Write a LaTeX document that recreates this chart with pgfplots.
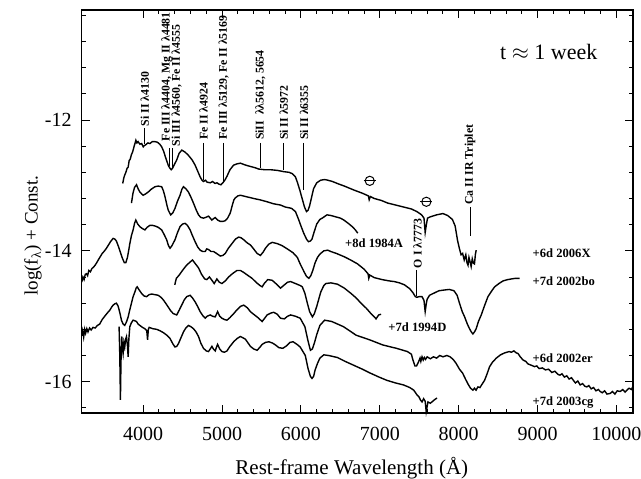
\documentclass[border=0pt]{standalone}
\usepackage{fontspec}
\setmainfont{Liberation Serif}
\usepackage{pgfplots}
\pgfplotsset{compat=1.18}
\begin{document}
\begin{tikzpicture}
\begin{axis}[
  scale only axis, width=275.65pt, height=201.5pt,
  xmin=3220, xmax=10210, ymin=-16.479, ymax=-10.318,
  xtick={4000,5000,6000,7000,8000,9000,10000}, minor x tick num=4,
  scaled x ticks=false, scaled y ticks=false,
  ytick={-16,-14,-12},
  minor ytick={-16.4,-15.6,-15.2,-14.8,-14.4,-13.6,-13.2,-12.8,-12.4,-11.6,-11.2,-10.8,-10.4},
  tick align=inside, major tick length=4pt, minor tick length=2pt,
  xtick pos=both, ytick pos=both,
  /pgf/number format/assume math mode=true,
  /pgf/number format/set thousands separator={},
  tick label style={font=\fontsize{10}{12}\selectfont},
  xticklabel style={yshift=-3.4pt},
  yticklabel style={xshift=-1.5pt},
  axis line style={line width=0.6pt},
  every tick/.style={line width=0.5pt},
  xlabel={Rest-frame Wavelength (Å)},
  ylabel={log(f\textsubscript{λ}) + Const.},
  xlabel style={at={(axis description cs:0.49,-0.1365)}, anchor=center, font=\fontsize{10.5}{12}\selectfont},
  ylabel style={at={(axis description cs:-0.0882,0.44)}, anchor=center, font=\fontsize{9.5}{11}\selectfont},
  clip=false,
]
% 2006X
\addplot[black, line width=0.7pt] coordinates {
(3740,-12.97)(3755,-12.88)(3766,-12.84)(3780,-12.80)(3795,-12.74)(3809,-12.72)(3822,-12.62)(3835,-12.60)
(3850,-12.53)(3862,-12.50)(3872,-12.46)(3885,-12.40)(3895,-12.36)(3907,-12.31)(3920,-12.35)(3935,-12.33)
(3958,-12.37)(3980,-12.36)(4000,-12.41)(4015,-12.39)(4030,-12.38)(4060,-12.35)(4085,-12.36)(4115,-12.33)
(4149,-12.33)(4180,-12.34)(4210,-12.37)(4234,-12.41)(4260,-12.48)(4280,-12.56)(4300,-12.63)(4320,-12.70)
(4340,-12.74)(4355,-12.76)(4370,-12.74)(4395,-12.68)(4425,-12.61)(4455,-12.51)(4489,-12.46)(4530,-12.49)
(4573,-12.54)(4620,-12.61)(4658,-12.69)(4690,-12.78)(4722,-12.87)(4745,-12.92)(4764,-12.94)(4790,-12.92)
(4810,-12.95)(4850,-12.96)(4880,-12.94)(4910,-12.97)(4935,-12.96)(4960,-12.98)(4986,-12.99)(5010,-12.96)
(5035,-12.92)(5062,-12.86)(5100,-12.76)(5146,-12.69)(5190,-12.67)(5232,-12.66)(5300,-12.69)(5359,-12.71)
(5420,-12.73)(5465,-12.75)(5540,-12.76)(5614,-12.76)(5700,-12.77)(5784,-12.79)(5850,-12.80)(5890,-12.82)
(5930,-12.87)(5954,-12.95)(5985,-13.07)(6017,-13.21)(6045,-13.33)(6070,-13.40)(6090,-13.38)(6110,-13.31)
(6135,-13.18)(6160,-13.05)(6200,-12.96)(6250,-12.92)(6300,-12.91)(6340,-12.92)(6400,-12.94)(6460,-12.97)
(6550,-13.01)(6670,-13.07)(6780,-13.12)(6855,-13.16)(6865,-13.22)(6880,-13.17)(6930,-13.20)(7020,-13.23)
(7100,-13.27)(7200,-13.30)(7300,-13.33)(7400,-13.36)(7470,-13.40)(7530,-13.45)(7560,-13.50)(7575,-13.72)
(7590,-13.60)(7605,-13.50)(7640,-13.48)(7720,-13.45)(7800,-13.43)(7860,-13.46)(7920,-13.52)(7955,-13.62)
(7985,-13.84)(8010,-13.97)(8030,-14.06)(8050,-14.04)(8070,-14.14)(8090,-14.06)(8105,-14.18)(8118,-14.22)
(8130,-14.10)(8145,-14.17)(8158,-14.24)(8172,-14.12)(8188,-14.19)(8200,-14.20)(8212,-14.05)(8222,-13.99)
};
% 1984A
\addplot[black, line width=0.7pt] coordinates {
(3851,-13.27)(3870,-13.12)(3890,-13.03)(3915,-12.99)(3935,-13.05)(3957,-13.10)(3980,-13.13)(4000,-13.15)
(4030,-13.13)(4064,-13.10)(4100,-13.06)(4149,-13.02)(4190,-13.01)(4234,-13.02)(4255,-13.08)(4276,-13.17)
(4300,-13.30)(4318,-13.38)(4348,-13.45)(4375,-13.42)(4403,-13.35)(4435,-13.24)(4467,-13.15)(4490,-13.06)
(4510,-13.02)(4540,-13.05)(4573,-13.10)(4605,-13.18)(4637,-13.27)(4670,-13.37)(4701,-13.45)(4730,-13.49)
(4764,-13.50)(4790,-13.49)(4828,-13.47)(4850,-13.50)(4870,-13.53)(4890,-13.51)(4913,-13.49)(4945,-13.53)
(4977,-13.55)(5010,-13.55)(5040,-13.54)(5070,-13.50)(5104,-13.42)(5130,-13.30)(5150,-13.22)(5168,-13.19)
(5200,-13.16)(5232,-13.15)(5300,-13.17)(5401,-13.20)(5480,-13.22)(5571,-13.25)(5650,-13.28)(5741,-13.30)
(5800,-13.33)(5880,-13.35)(5930,-13.40)(5970,-13.52)(6000,-13.62)(6035,-13.73)(6070,-13.82)(6095,-13.86)
(6120,-13.85)(6140,-13.82)(6170,-13.70)(6200,-13.59)(6240,-13.52)(6270,-13.50)(6330,-13.45)(6380,-13.46)
(6440,-13.48)(6500,-13.50)(6545,-13.53)(6600,-13.58)(6650,-13.63)(6690,-13.68)(6720,-13.73)
};
% 2002bo
\addplot[black, line width=0.7pt] coordinates {
(3220,-14.48)(3235,-14.40)(3250,-14.44)(3265,-14.36)(3280,-14.35)(3295,-14.38)(3310,-14.30)(3330,-14.32)
(3350,-14.27)(3370,-14.25)(3390,-14.22)(3406,-14.19)(3430,-14.14)(3450,-14.10)(3480,-14.04)(3510,-14.00)
(3534,-13.96)(3560,-13.91)(3585,-13.86)(3618,-13.81)(3640,-13.82)(3660,-13.85)(3685,-13.93)(3710,-14.02)
(3735,-14.11)(3760,-14.18)(3780,-14.18)(3800,-14.10)(3815,-14.00)(3830,-13.89)(3850,-13.77)(3872,-13.68)
(3890,-13.58)(3906,-13.53)(3930,-13.59)(3957,-13.63)(3990,-13.66)(4021,-13.68)(4050,-13.64)(4085,-13.61)
(4115,-13.61)(4149,-13.62)(4190,-13.64)(4234,-13.68)(4265,-13.75)(4297,-13.83)(4320,-13.92)(4340,-13.96)
(4365,-13.92)(4403,-13.83)(4435,-13.72)(4467,-13.63)(4500,-13.59)(4531,-13.58)(4560,-13.61)(4595,-13.68)
(4625,-13.77)(4658,-13.86)(4690,-13.94)(4722,-13.99)(4755,-14.01)(4786,-14.01)(4805,-13.97)(4828,-13.98)
(4860,-14.01)(4892,-14.01)(4930,-14.04)(4977,-14.08)(5010,-14.07)(5040,-14.04)(5080,-13.96)(5125,-13.89)
(5170,-13.82)(5210,-13.79)(5240,-13.80)(5274,-13.83)(5320,-13.88)(5359,-13.91)(5400,-13.97)(5444,-14.04)
(5486,-14.07)(5520,-14.02)(5550,-13.96)(5590,-13.90)(5635,-13.87)(5700,-13.89)(5760,-13.92)(5826,-13.97)
(5900,-14.03)(5954,-14.10)(5990,-14.20)(6039,-14.32)(6070,-14.39)(6100,-14.42)(6125,-14.38)(6150,-14.30)
(6180,-14.18)(6210,-14.10)(6240,-14.05)(6290,-14.00)(6340,-13.99)(6378,-14.01)(6450,-14.04)(6548,-14.09)
(6630,-14.14)(6718,-14.20)(6800,-14.28)(6850,-14.35)(6860,-14.42)(6872,-14.37)(6930,-14.41)(7030,-14.44)
(7120,-14.46)(7185,-14.47)(7250,-14.49)(7313,-14.52)(7380,-14.58)(7420,-14.64)(7450,-14.70)(7470,-14.71)
(7500,-14.70)(7535,-14.70)(7560,-14.76)(7575,-14.93)(7590,-14.80)(7600,-14.74)(7630,-14.68)(7680,-14.65)
(7750,-14.61)(7810,-14.60)(7880,-14.59)(7940,-14.61)(7980,-14.68)(8010,-14.80)(8045,-14.93)(8075,-15.01)
(8110,-15.12)(8137,-15.19)(8160,-15.24)(8180,-15.27)(8200,-15.24)(8222,-15.19)(8250,-15.08)(8286,-14.98)
(8330,-14.83)(8371,-14.70)(8420,-14.61)(8456,-14.55)(8510,-14.50)(8562,-14.46)(8620,-14.44)(8668,-14.43)
(8720,-14.42)(8773,-14.42)
};
% 1994D
\addplot[black, line width=0.7pt] coordinates {
(4400,-14.52)(4420,-14.42)(4450,-14.38)(4480,-14.33)(4510,-14.28)(4550,-14.22)(4595,-14.17)(4625,-14.14)
(4650,-14.18)(4701,-14.26)(4740,-14.36)(4780,-14.43)(4807,-14.44)(4840,-14.40)(4871,-14.45)(4900,-14.50)
(4934,-14.43)(4965,-14.48)(4998,-14.50)(5040,-14.46)(5083,-14.40)(5130,-14.35)(5189,-14.30)(5232,-14.30)
(5274,-14.33)(5320,-14.37)(5380,-14.42)(5430,-14.48)(5480,-14.53)(5508,-14.55)(5540,-14.49)(5580,-14.44)
(5635,-14.45)(5700,-14.52)(5741,-14.57)(5780,-14.53)(5830,-14.48)(5869,-14.47)(5930,-14.50)(5990,-14.53)
(6017,-14.55)(6050,-14.65)(6081,-14.80)(6110,-14.93)(6145,-15.01)(6170,-14.96)(6200,-14.85)(6230,-14.72)
(6251,-14.63)(6290,-14.53)(6315,-14.50)(6380,-14.49)(6463,-14.51)(6550,-14.57)(6633,-14.65)(6700,-14.72)
(6761,-14.80)(6830,-14.88)(6888,-14.96)(6930,-15.01)(6952,-15.04)(6985,-14.98)(7016,-14.97)
};
% 2002er
\addplot[black, line width=0.7pt] coordinates {
(3220,-15.30)(3232,-15.22)(3245,-15.32)(3258,-15.20)(3270,-15.26)(3285,-15.19)(3300,-15.24)(3320,-15.18)
(3340,-15.21)(3363,-15.17)(3390,-15.18)(3420,-15.14)(3448,-15.12)(3480,-15.05)(3512,-15.00)(3545,-14.95)
(3575,-14.91)(3600,-14.86)(3618,-14.83)(3640,-14.81)(3660,-14.80)(3680,-14.84)(3694,-14.90)(3710,-14.98)
(3724,-15.06)(3745,-15.12)(3766,-15.14)(3790,-15.08)(3809,-15.01)(3830,-14.90)(3851,-14.80)(3872,-14.70)
(3894,-14.63)(3910,-14.57)(3923,-14.55)(3950,-14.60)(3979,-14.65)(4010,-14.69)(4043,-14.70)(4075,-14.67)
(4106,-14.66)(4150,-14.67)(4191,-14.68)(4225,-14.71)(4255,-14.75)(4290,-14.81)(4318,-14.86)(4350,-14.92)
(4382,-14.96)(4425,-14.98)(4455,-14.91)(4488,-14.83)(4520,-14.75)(4552,-14.70)(4595,-14.68)(4625,-14.72)
(4658,-14.78)(4690,-14.85)(4722,-14.93)(4755,-14.99)(4786,-15.03)(4810,-15.00)(4849,-14.98)(4880,-15.00)
(4913,-15.01)(4943,-14.93)(4970,-15.00)(4998,-15.03)(5030,-15.05)(5062,-15.06)(5100,-15.02)(5147,-14.96)
(5190,-14.90)(5232,-14.85)(5274,-14.83)(5320,-14.87)(5359,-14.93)(5400,-14.97)(5444,-15.01)(5480,-15.05)
(5508,-15.08)(5540,-15.03)(5571,-14.98)(5620,-14.95)(5656,-14.94)(5700,-14.97)(5741,-15.03)(5790,-15.04)
(5830,-15.00)(5869,-14.98)(5930,-15.00)(5990,-15.03)(6050,-15.16)(6090,-15.38)(6120,-15.52)(6145,-15.50)
(6175,-15.39)(6200,-15.28)(6240,-15.14)(6300,-15.06)(6390,-15.08)(6540,-15.16)(6700,-15.29)(6870,-15.36)
(7040,-15.44)(7210,-15.49)(7350,-15.54)(7400,-15.58)(7420,-15.67)(7445,-15.76)(7465,-15.76)(7490,-15.70)
(7510,-15.64)(7520,-15.69)(7535,-15.62)(7550,-15.67)(7565,-15.63)(7580,-15.66)(7600,-15.62)(7640,-15.65)
(7680,-15.62)(7720,-15.64)(7760,-15.60)(7800,-15.62)(7850,-15.60)(7890,-15.62)(7930,-15.66)(7967,-15.72)
(8010,-15.81)(8050,-15.87)(8090,-15.97)(8120,-16.04)(8150,-16.10)(8180,-16.13)(8200,-16.10)(8220,-16.13)
(8244,-16.08)(8270,-16.09)(8290,-16.05)(8328,-15.98)(8360,-15.88)(8392,-15.77)(8430,-15.70)(8477,-15.64)
(8530,-15.59)(8583,-15.56)(8640,-15.54)(8668,-15.55)(8700,-15.53)(8730,-15.56)(8753,-15.57)(8780,-15.62)
(8817,-15.67)(8850,-15.69)(8880,-15.73)(8923,-15.75)(8960,-15.77)(8990,-15.76)(9020,-15.80)(9060,-15.79)
(9100,-15.82)(9140,-15.81)(9180,-15.86)(9220,-15.84)(9260,-15.89)(9284,-15.90)(9310,-15.88)(9340,-15.93)
(9370,-15.91)(9400,-15.96)(9430,-15.94)(9454,-15.98)(9480,-16.02)(9510,-15.99)(9540,-16.05)(9570,-16.03)
(9600,-16.07)(9624,-16.08)(9650,-16.06)(9680,-16.11)(9710,-16.09)(9740,-16.14)(9770,-16.12)(9794,-16.15)
(9820,-16.17)(9850,-16.14)(9880,-16.19)(9921,-16.18)(9950,-16.15)(9980,-16.19)(10010,-16.14)(10048,-16.15)
(10080,-16.12)(10110,-16.16)(10133,-16.13)(10160,-16.10)(10190,-16.12)(10210,-16.07)
};
% 2003cg
\addplot[black, line width=0.7pt] coordinates {
(3694,-15.16)(3703,-15.60)(3711,-16.28)(3718,-15.70)(3728,-15.31)(3737,-15.50)(3745,-15.57)(3755,-15.40)
(3766,-15.47)(3777,-15.35)(3788,-15.31)(3800,-15.45)(3809,-15.62)(3818,-15.35)(3830,-15.16)(3850,-15.10)
(3872,-15.06)(3895,-15.07)(3915,-15.08)(3935,-15.12)(3957,-15.14)(3990,-15.17)(4021,-15.19)(4045,-15.22)
(4055,-15.36)(4065,-15.20)(4076,-15.17)(4120,-15.19)(4170,-15.20)(4210,-15.22)(4255,-15.25)(4300,-15.29)
(4340,-15.34)(4375,-15.42)(4403,-15.47)(4425,-15.46)(4446,-15.42)(4478,-15.33)(4510,-15.24)(4540,-15.18)
(4573,-15.14)(4605,-15.16)(4637,-15.19)(4670,-15.24)(4701,-15.31)(4730,-15.41)(4764,-15.49)(4800,-15.53)
(4828,-15.54)(4850,-15.50)(4871,-15.46)(4890,-15.50)(4913,-15.53)(4930,-15.47)(4943,-15.43)(4970,-15.50)
(4998,-15.54)(5030,-15.55)(5062,-15.53)(5100,-15.46)(5147,-15.39)(5190,-15.34)(5232,-15.31)(5265,-15.33)
(5295,-15.35)(5330,-15.41)(5359,-15.46)(5400,-15.50)(5444,-15.52)(5475,-15.48)(5508,-15.43)(5550,-15.40)
(5593,-15.39)(5640,-15.41)(5678,-15.44)(5720,-15.48)(5770,-15.49)(5820,-15.45)(5860,-15.40)(5900,-15.39)
(5950,-15.43)(5990,-15.47)(6030,-15.55)(6055,-15.60)(6090,-15.80)(6120,-15.92)(6140,-15.95)(6160,-15.92)
(6180,-15.82)(6210,-15.72)(6240,-15.64)(6290,-15.59)(6350,-15.60)(6460,-15.63)(6560,-15.69)(6670,-15.75)
(6780,-15.81)(6880,-15.87)(6990,-15.93)(7090,-15.98)(7200,-16.02)(7300,-16.05)(7380,-16.09)(7430,-16.13)
(7470,-16.20)(7495,-16.23)(7515,-16.28)(7535,-16.31)(7555,-16.26)(7575,-16.30)(7588,-16.46)(7600,-16.38)
(7610,-16.31)(7640,-16.33)(7680,-16.29)(7700,-16.27)(7725,-16.25)
};
% line identifications
\begin{scope}[every node/.style={font=\fontsize{5.9}{6}\selectfont\bfseries, inner sep=0pt, anchor=west, rotate=90}]
\node at (axis cs:4021,-12.10) {Si II λ4130};
\node at (axis cs:4298,-12.33) {Fe III λ4404, Mg II λ4481};
\node at (axis cs:4425,-12.41) {Si III λ4560, Fe II λ4555};
\node at (axis cs:4764,-12.31) {Fe II λ4924};
\node at (axis cs:5019,-12.31) {Fe III λ5129, Fe II λ5169};
\node at (axis cs:5487,-12.31) {SiII\ \ λλ5612, 5654};
\node at (axis cs:5783,-12.31) {Si II λ5972};
\node at (axis cs:6038,-12.31) {Si II λ6355};
\node at (axis cs:7478,-14.27) {O I λ7773};
\node at (axis cs:8145,-13.30) {Ca II IR Triplet};
\end{scope}
\begin{scope}[line width=0.5pt]
\draw (axis cs:4021,-12.12) -- (axis cs:4021,-12.37);
\draw (axis cs:4331,-12.43) -- (axis cs:4331,-12.71);
\draw (axis cs:4369,-12.43) -- (axis cs:4369,-12.72);
\draw (axis cs:4764,-12.35) -- (axis cs:4764,-12.92);
\draw (axis cs:5019,-12.35) -- (axis cs:5019,-12.95);
\draw (axis cs:5487,-12.35) -- (axis cs:5487,-12.73);
\draw (axis cs:5783,-12.35) -- (axis cs:5783,-12.77);
\draw (axis cs:6038,-12.35) -- (axis cs:6038,-13.07);
\draw (axis cs:7470,-14.29) -- (axis cs:7470,-14.69);
\draw (axis cs:8145,-13.33) -- (axis cs:8145,-13.78);
\end{scope}
% telluric symbols
\node[circle, draw, line width=0.5pt, inner sep=0pt, minimum size=4.6pt] (ta) at (axis cs:6872,-12.93) {};
\draw[line width=0.5pt] ([xshift=-3pt]ta.center) -- ([xshift=3pt]ta.center);
\node[circle, draw, line width=0.5pt, inner sep=0pt, minimum size=4.6pt] (tb) at (axis cs:7590,-13.25) {};
\draw[line width=0.5pt] ([xshift=-3pt]tb.center) -- ([xshift=3pt]tb.center);
% spectrum labels
\begin{scope}[every node/.style={font=\fontsize{6.3}{7}\selectfont\bfseries, inner sep=0pt, anchor=west}]
\node at (axis cs:8933,-14.04) {+6d 2006X};
\node at (axis cs:8933,-14.47) {+7d 2002bo};
\node at (axis cs:8933,-15.64) {+6d 2002er};
\node at (axis cs:8933,-16.32) {+7d 2003cg};
\node at (axis cs:6555,-13.876) {+8d 1984A};
\node at (axis cs:7104,-15.17) {+7d 1994D};
\end{scope}
\node[font=\fontsize{11}{12}\selectfont] at (axis cs:9142,-10.956) {t $\approx$ 1 week};
\end{axis}
\pgfresetboundingbox
\path ([shift={(-40.85pt,-33pt)}]current axis.south west) rectangle ([shift={(4pt,5pt)}]current axis.north east);
\end{tikzpicture}
\end{document}
